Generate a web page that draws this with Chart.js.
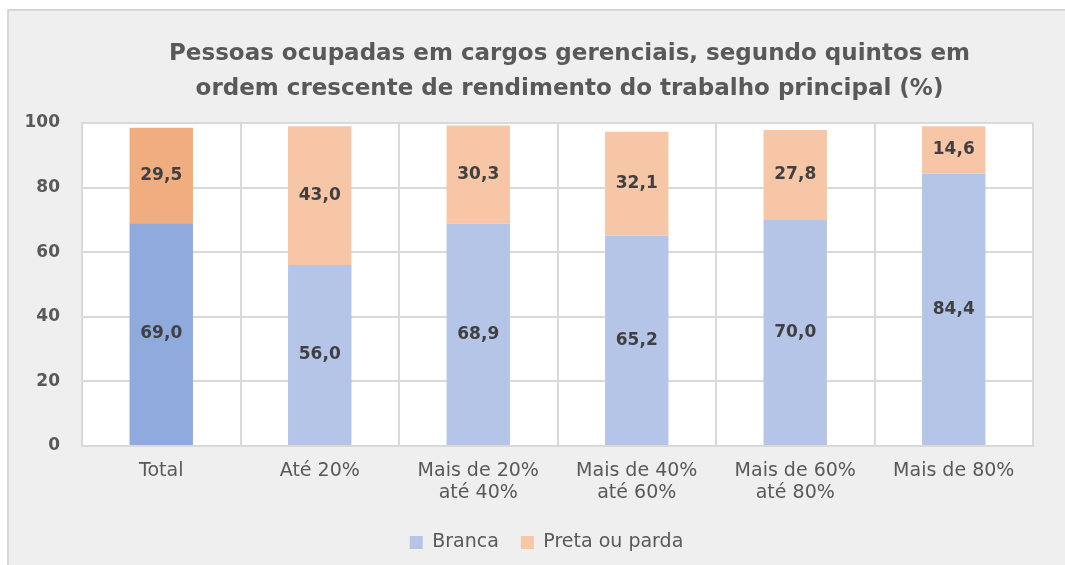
<!DOCTYPE html>
<html>
<head>
<meta charset="utf-8">
<script src="https://cdn.jsdelivr.net/npm/chart.js@4.4.1/dist/chart.umd.min.js"></script>
<style>
html,body{margin:0;padding:0;background:#ffffff;}
#wrap{width:1065px;height:565px;position:relative;}
</style>
</head>
<body>
<div id="wrap"><canvas id="c" width="1065" height="565"></canvas></div>
<script>
const titleLines = ['Pessoas ocupadas em cargos gerenciais, segundo quintos em', 'ordem crescente de rendimento do trabalho principal (%)'];
const categories = ['Total', 'Até 20%', ['Mais de 20%', 'até 40%'], ['Mais de 40%', 'até 60%'], ['Mais de 60%', 'até 80%'], 'Mais de 80%'];
const seriesNames = ['Branca', 'Preta ou parda'];
const branca = [69.0, 56.0, 68.9, 65.2, 70.0, 84.4];
const pretaParda = [29.5, 43.0, 30.3, 32.1, 27.8, 14.6];
const yTicks = [0, 20, 40, 60, 80, 100];

const FONT = 'DejaVu Sans';
const blueDark = '#8FAADC', blueLight = '#B4C5E7';
const orangeDark = '#F0AE80', orangeLight = '#F6C6A6';

const bgPlugin = {
  id: 'bg',
  beforeDraw(chart) {
    const ctx = chart.ctx, a = chart.chartArea;
    ctx.save();
    ctx.fillStyle = '#ffffff';
    ctx.fillRect(0, 0, chart.width, chart.height);
    ctx.fillStyle = '#d6d6d6';
    ctx.fillRect(7, 9, chart.width - 7, chart.height - 9);
    ctx.fillStyle = '#efefef';
    ctx.fillRect(9, 11, chart.width - 9, chart.height - 11);
    ctx.fillStyle = '#ffffff';
    ctx.fillRect(a.left, a.top, a.right - a.left, a.bottom - a.top);
    ctx.restore();
  }
};

const shiftPlugin = {
  id: 'shift',
  afterLayout(chart) {
    if (chart.titleBlock) { chart.titleBlock.left += 12; chart.titleBlock.right += 12; }
    if (chart.legend) { chart.legend.left -= 11; chart.legend.right -= 11; }
  }
};

const labelPlugin = {
  id: 'vlabels',
  afterDatasetsDraw(chart) {
    const ctx = chart.ctx;
    ctx.save();
    ctx.font = 'bold 17px "' + FONT + '"';
    ctx.fillStyle = '#404040';
    ctx.textAlign = 'center';
    ctx.textBaseline = 'middle';
    chart.data.datasets.forEach((ds, di) => {
      const meta = chart.getDatasetMeta(di);
      meta.data.forEach((el, i) => {
        const v = ds.data[i];
        const y = (el.y + el.base) / 2;
        ctx.fillText(v.toFixed(1).replace('.', ','), el.x, y);
      });
    });
    ctx.restore();
  }
};

new Chart(document.getElementById('c'), {
  type: 'bar',
  data: {
    labels: categories,
    datasets: [
      { label: seriesNames[0], data: branca,
        backgroundColor: branca.map((_, i) => i === 0 ? blueDark : blueLight),
        barPercentage: 1, categoryPercentage: 0.4 },
      { label: seriesNames[1], data: pretaParda,
        backgroundColor: pretaParda.map((_, i) => i === 0 ? orangeDark : orangeLight),
        barPercentage: 1, categoryPercentage: 0.4 }
    ]
  },
  options: {
    responsive: false,
    animation: false,
    devicePixelRatio: 1,
    layout: { padding: { left: 10, right: 32, top: 10, bottom: 3 } },
    scales: {
      x: {
        stacked: true,
        grid: { color: '#d9d9d9', lineWidth: 2, drawTicks: false, offset: true },
        border: { color: '#d9d9d9', width: 2 },
        ticks: { color: '#595959', padding: 14, maxRotation: 0, autoSkip: false,
          font: { family: FONT, size: 19, lineHeight: 22 / 19 } },
        afterFit(s) { s.height = 65; }
      },
      y: {
        stacked: true,
        min: 0, max: 100,
        afterBuildTicks(s) { s.ticks = yTicks.map(v => ({ value: v })); },
        grid: { color: '#d9d9d9', lineWidth: 2, drawTicks: false },
        border: { color: '#d9d9d9', width: 2 },
        ticks: { color: '#595959', padding: 22,
          font: { family: FONT, size: 17, weight: 'bold' } },
        afterFit(s) { s.width = 72; }
      }
    },
    plugins: {
      title: {
        display: true,
        text: titleLines,
        color: '#595959',
        fullSize: false,
        font: { family: FONT, size: 23, weight: 'bold', lineHeight: 35 / 23 },
        padding: { top: 27, bottom: 16 }
      },
      legend: {
        position: 'bottom',
        fullSize: false,
        labels: {
          color: '#595959',
          boxWidth: 13, boxHeight: 13,
          padding: 22,
          font: { family: FONT, size: 19 },
          generateLabels() {
            return seriesNames.map((n, i) => ({
              text: n, fillStyle: i === 0 ? blueLight : orangeLight,
              strokeStyle: 'rgba(0,0,0,0)', lineWidth: 0, datasetIndex: i, fontColor: '#595959'
            }));
          }
        }
      },
      tooltip: { enabled: false }
    }
  },
  plugins: [bgPlugin, shiftPlugin, labelPlugin]
});
</script>
</body>
</html>
